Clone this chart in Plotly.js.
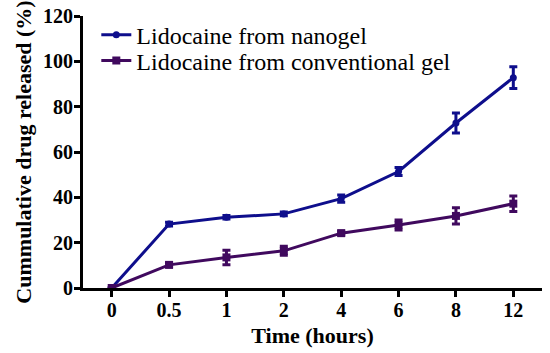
<!DOCTYPE html>
<html>
<head>
<meta charset="utf-8">
<script src="https://cdn.plot.ly/plotly-3.0.1.min.js"></script>
<style>html,body{margin:0;padding:0;background:#fff;}#chart{width:550px;height:353px;}</style>
</head>
<body>
<div id="chart"></div>
<script>
var timeLabels = ["0", "0.5", "1", "2", "4", "6", "8", "12"];
var nanogel = [0, 28.2, 31.2, 32.7, 39.4, 51.4, 72.8, 92.8];
var nanogelErr = [0, 0.8, 0.8, 0.8, 1.6, 1.8, 4.4, 4.8];
var conventional = [0, 10.2, 13.5, 16.4, 24.2, 27.8, 31.8, 37.2];
var conventionalErr = [0, 0.8, 3.2, 2.0, 0.8, 2.2, 3.6, 3.4];
var seriesNames = ["Lidocaine from nanogel", "Lidocaine from conventional gel"];

var blue = "#0e0e8c";
var purple = "#40095e";

var traces = [
  {
    x: timeLabels, y: nanogel, name: seriesNames[0], type: "scatter", mode: "lines+markers",
    legend: "legend",
    line: {color: blue, width: 3},
    marker: {color: blue, symbol: "circle", size: 7},
    error_y: {type: "data", array: nanogelErr, visible: true, color: blue, thickness: 3, width: 4}
  },
  {
    x: timeLabels, y: conventional, name: seriesNames[1], type: "scatter", mode: "lines+markers",
    legend: "legend2",
    line: {color: purple, width: 3},
    marker: {color: purple, symbol: "square", size: 8},
    error_y: {type: "data", array: conventionalErr, visible: true, color: purple, thickness: 3, width: 4}
  }
];

var serif = "Liberation Serif";
var tickFont = {family: serif, size: 20, color: "#000", weight: "bold"};
var legendFont = {family: serif, size: 24, color: "#000"};
var layout = {
  width: 550, height: 353,
  margin: {l: 83, r: 8, t: 16, b: 65},
  paper_bgcolor: "#fff", plot_bgcolor: "#fff",
  showlegend: true,
  legend: {x: 0.029, y: 0.93, xanchor: "left", yanchor: "middle", bgcolor: "rgba(0,0,0,0)",
    font: legendFont, itemwidth: 30},
  legend2: {x: 0.029, y: 0.835, xanchor: "left", yanchor: "middle", bgcolor: "rgba(0,0,0,0)",
    font: legendFont, itemwidth: 30},
  xaxis: {
    type: "category", range: [-0.5, 7.5], showgrid: false, zeroline: false,
    showline: true, linecolor: "#000", linewidth: 3,
    ticks: "outside", ticklen: 6, tickwidth: 3, tickcolor: "#000",
    tickfont: tickFont, ticklabelstandoff: -4,
    title: {text: "Time (hours)", font: {family: serif, size: 22, color: "#000", weight: "bold"}, standoff: 8}
  },
  yaxis: {
    range: [0, 120], tickvals: [0, 20, 40, 60, 80, 100, 120], showgrid: false, zeroline: false,
    showline: true, linecolor: "#000", linewidth: 3,
    ticks: "outside", ticklen: 6, tickwidth: 3, tickcolor: "#000",
    tickfont: tickFont, ticklabelstandoff: -3,
    title: {text: "Cummulative drug released (%)", font: {family: serif, size: 22, color: "#000", weight: "bold"}, standoff: 6}
  }
};
Plotly.newPlot("chart", traces, layout, {displayModeBar: false, staticPlot: true});
</script>
</body>
</html>
